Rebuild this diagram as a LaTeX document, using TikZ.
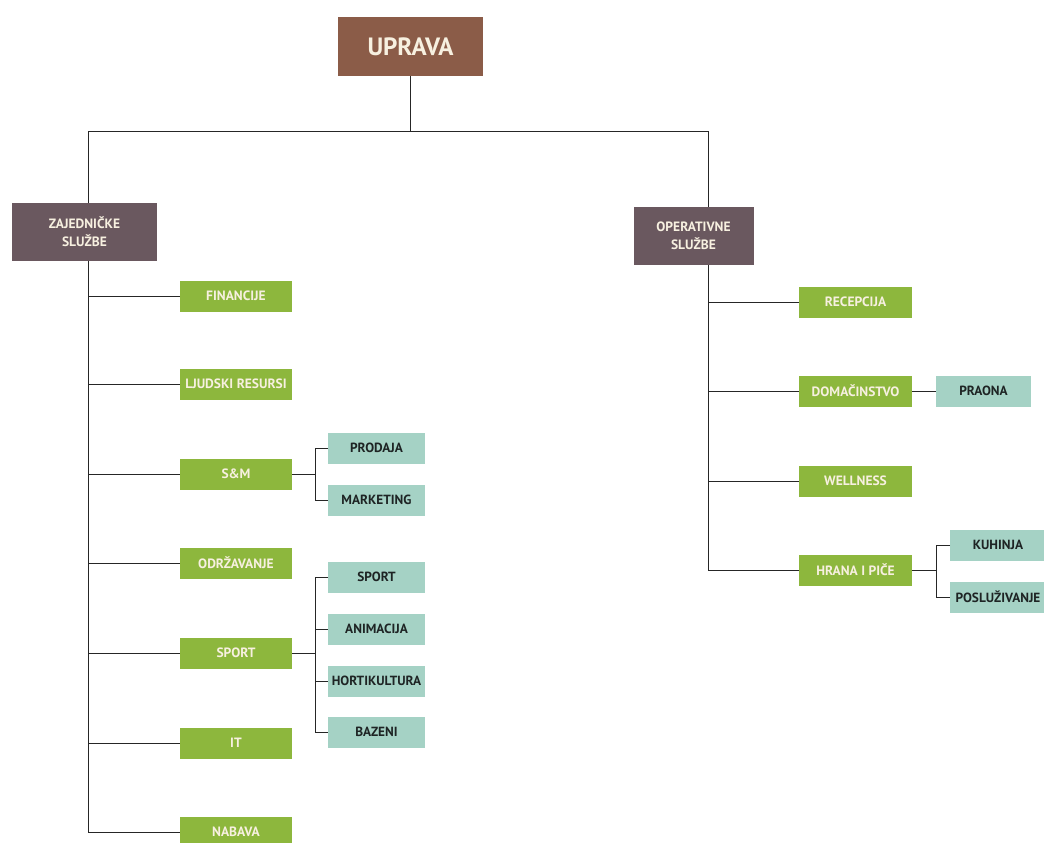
\documentclass[tikz,border=0pt]{standalone}
\usepackage{fontspec}
\setmainfont{PT Sans}
\usepackage{xcolor}
\usetikzlibrary{positioning,calc}

\definecolor{upravabrown}{RGB}{139,92,72}
\definecolor{sluzbagrey}{RGB}{106,88,95}
\definecolor{unitgreen}{RGB}{141,183,61}
\definecolor{subteal}{RGB}{165,210,197}
\definecolor{labelcream}{RGB}{247,240,224}
\definecolor{labeldark}{RGB}{30,36,36}

\tikzset{
  org chart/.style={%pixel-like units, y pointing down
     x=1pt, y=-1pt,
     inner sep=0pt, outer sep=0pt},
  link/.style={draw=black!85, line width=0.9pt},
  head/.style={fill=upravabrown, text=labelcream,
     minimum width=145pt, minimum height=59pt,
     font=\fontsize{25}{28}\selectfont\bfseries},
  sluzba/.style={fill=sluzbagrey, text=labelcream, align=center,
     minimum height=58pt,
     font=\fontsize{13.5}{18}\selectfont\bfseries},
  unit/.style={fill=unitgreen, text=labelcream,
     minimum width=112pt, minimum height=31pt,
     font=\fontsize{13.5}{15}\selectfont\bfseries},
  subunit/.style={fill=subteal, text=labeldark,
     minimum width=97pt, minimum height=31pt,
     font=\fontsize{13.3}{15}\selectfont\bfseries}
}

\begin{document}
\begin{tikzpicture}[org chart]
    \useasboundingbox (0,0) rectangle (1044,843);

    % top of the chart
    \node[head] (uprava) at (410.5,46.5) {UPRAVA};
    \node[sluzba, minimum width=145pt] (zaj) at (84.5,231.5) {ZAJEDNIČKE\\SLUŽBE};
    \node[sluzba, minimum width=120pt] (oper) at (693.5,236) {OPERATIVNE\\SLUŽBE};

    % spines and bracket columns
    \coordinate (lspine) at (88,131);
    \coordinate (rspine) at (708,131);
    \coordinate (lbrk) at (315,0);
    \coordinate (rbrk) at (936,0);

    % zajednicke sluzbe
    \node[unit] (fin) at (236,296) {FINANCIJE};
    \node[unit] (ljud) at (236,384) {LJUDSKI RESURSI};
    \node[unit] (sm) at (236,474) {S\&M};
    \node[unit] (odr) at (236,563) {ODRŽAVANJE};
    \node[unit] (sport) at (236,653) {SPORT};
    \node[unit] (it) at (236,743) {IT};
    \node[unit] (nabava) at (236,832) {NABAVA};

    \node[subunit] (prodaja) at (376.5,448) {PRODAJA};
    \node[subunit] (marketing) at (376.5,500) {MARKETING};
    \node[subunit] (sportsub) at (376.5,577) {SPORT};
    \node[subunit] (animacija) at (376.5,629) {ANIMACIJA};
    \node[subunit] (hort) at (376.5,681) {HORTIKULTURA};
    \node[subunit] (bazeni) at (376.5,732) {BAZENI};

    % operativne sluzbe
    \node[unit, minimum width=113pt] (recepcija) at (855.5,302) {RECEPCIJA};
    \node[unit, minimum width=113pt] (domac) at (855.5,391) {DOMAČINSTVO};
    \node[unit, minimum width=113pt] (wellness) at (855.5,481) {WELLNESS};
    \node[unit, minimum width=113pt] (hrana) at (855.5,570) {HRANA I PIČE};

    \node[subunit, minimum width=95pt] (praona) at (983.5,391) {PRAONA};
    \node[subunit, minimum width=96pt] (kuhinja) at (998,545) {KUHINJA};
    \node[subunit, minimum width=96pt] (posluz) at (998,597) {POSLUŽIVANJE};

    % connectors from the top
    \draw[link] (uprava.south) -- (uprava.south |- lspine);
    \draw[link] (lspine) -- (rspine);
    \draw[link] (lspine) -- (lspine |- zaj.north);
    \draw[link] (rspine) -- (rspine |- oper.north);

    % left spine
    \draw[link] (lspine |- zaj.south) -- (lspine |- nabava);
    \foreach \u in {fin,ljud,sm,odr,sport,it,nabava}
      \draw[link] (lspine |- \u) -- (\u.west);

    % right spine
    \draw[link] (rspine |- oper.south) -- (rspine |- hrana);
    \foreach \u in {recepcija,domac,wellness,hrana}
      \draw[link] (rspine |- \u) -- (\u.west);

    % brackets to the sub units
    \draw[link] (sm.east) -- (lbrk |- sm);
    \draw[link] (prodaja.west) -| (lbrk |- marketing) -- (marketing.west);
    \draw[link] (sport.east) -- (lbrk |- sport);
    \draw[link] (sportsub.west) -| (lbrk |- bazeni) -- (bazeni.west);
    \draw[link] (lbrk |- animacija) -- (animacija.west);
    \draw[link] (lbrk |- hort) -- (hort.west);

    \draw[link] (domac.east) -- (praona.west);
    \draw[link] (hrana.east) -- (rbrk |- hrana);
    \draw[link] (kuhinja.west) -| (rbrk |- posluz) -- (posluz.west);
\end{tikzpicture}
\end{document}
